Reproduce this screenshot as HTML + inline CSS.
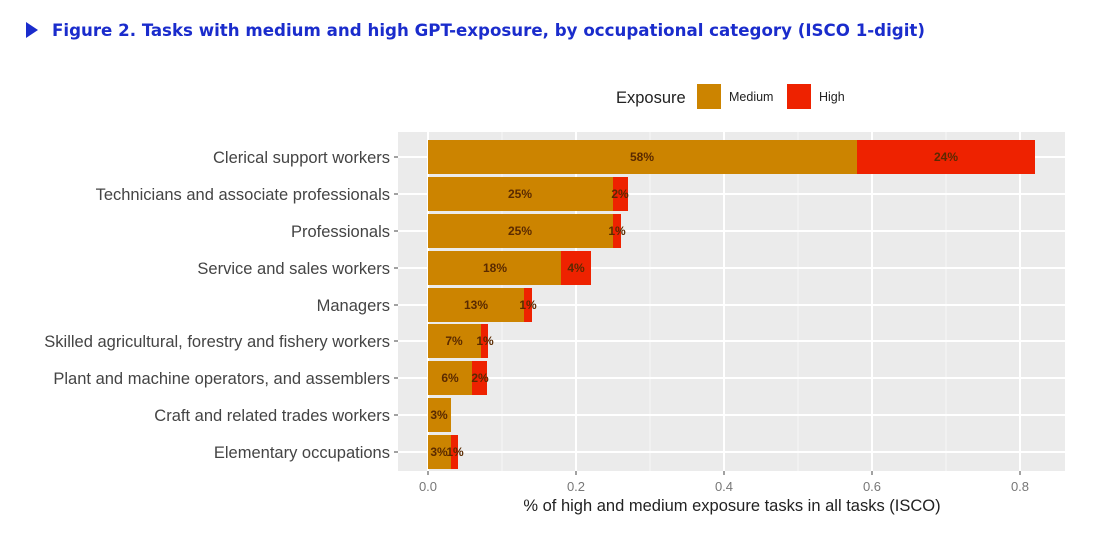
<!DOCTYPE html>
<html><head><style>
body{margin:0;background:#fff;width:1100px;height:537px;overflow:hidden;font-family:"Liberation Sans",sans-serif}
</style></head><body>
<svg width="1100" height="537" xmlns="http://www.w3.org/2000/svg" font-family="Liberation Sans, sans-serif">
<polygon points="26,22 26,38 38,30" fill="#1a2ccc"/>
<text x="52" y="36" font-size="17" font-weight="bold" fill="#1a2ccc" font-family="DejaVu Sans Condensed, DejaVu Sans, sans-serif" textLength="873" lengthAdjust="spacingAndGlyphs">Figure 2. Tasks with medium and high GPT-exposure, by occupational category (ISCO 1-digit)</text>
<text x="616" y="103" font-size="16.5" fill="#222">Exposure</text>
<rect x="697" y="84" width="24" height="25" fill="#cc8400"/>
<text x="729" y="101" font-size="12.5" fill="#222">Medium</text>
<rect x="787" y="84" width="24" height="25" fill="#ee2200"/>
<text x="819" y="101" font-size="12.5" fill="#222">High</text>
<rect x="398" y="132" width="667" height="339" fill="#ebebeb"/>
<g stroke="#f7f7f7" stroke-width="1">
<line x1="502" y1="132" x2="502" y2="471"/><line x1="650" y1="132" x2="650" y2="471"/><line x1="798" y1="132" x2="798" y2="471"/><line x1="946" y1="132" x2="946" y2="471"/>
</g>
<g stroke="#fff" stroke-width="2">
<line x1="428" y1="132" x2="428" y2="471"/><line x1="576" y1="132" x2="576" y2="471"/><line x1="724" y1="132" x2="724" y2="471"/><line x1="872" y1="132" x2="872" y2="471"/><line x1="1020" y1="132" x2="1020" y2="471"/>
<line x1="398" y1="157" x2="1065" y2="157"/><line x1="398" y1="194" x2="1065" y2="194"/><line x1="398" y1="231" x2="1065" y2="231"/><line x1="398" y1="268" x2="1065" y2="268"/><line x1="398" y1="305" x2="1065" y2="305"/><line x1="398" y1="341" x2="1065" y2="341"/><line x1="398" y1="378" x2="1065" y2="378"/><line x1="398" y1="415" x2="1065" y2="415"/><line x1="398" y1="452" x2="1065" y2="452"/>
</g>
<g font-size="12" font-weight="bold" fill="#5a2a00" text-anchor="middle">
<rect x="428" y="140" width="429" height="34" fill="#cc8400"/><rect x="857" y="140" width="178" height="34" fill="#ee2200"/>
<text x="642" y="161">58%</text><text x="946" y="161">24%</text>
<rect x="428" y="177" width="185" height="34" fill="#cc8400"/><rect x="613" y="177" width="15" height="34" fill="#ee2200"/>
<text x="520" y="198">25%</text><text x="620" y="198">2%</text>
<rect x="428" y="214" width="185" height="34" fill="#cc8400"/><rect x="613" y="214" width="8" height="34" fill="#ee2200"/>
<text x="520" y="235">25%</text><text x="617" y="235">1%</text>
<rect x="428" y="251" width="133" height="34" fill="#cc8400"/><rect x="561" y="251" width="30" height="34" fill="#ee2200"/>
<text x="495" y="272">18%</text><text x="576" y="272">4%</text>
<rect x="428" y="288" width="96" height="34" fill="#cc8400"/><rect x="524" y="288" width="8" height="34" fill="#ee2200"/>
<text x="476" y="309">13%</text><text x="528" y="309">1%</text>
<rect x="428" y="324" width="53" height="34" fill="#cc8400"/><rect x="481" y="324" width="7" height="34" fill="#ee2200"/>
<text x="454" y="345">7%</text><text x="485" y="345">1%</text>
<rect x="428" y="361" width="44" height="34" fill="#cc8400"/><rect x="472" y="361" width="15" height="34" fill="#ee2200"/>
<text x="450" y="382">6%</text><text x="480" y="382">2%</text>
<rect x="428" y="398" width="23" height="34" fill="#cc8400"/>
<text x="439" y="419">3%</text>
<rect x="428" y="435" width="23" height="34" fill="#cc8400"/><rect x="451" y="435" width="7" height="34" fill="#ee2200"/>
<text x="439" y="456">3%</text><text x="455" y="456">1%</text>
</g>
<g stroke="#444" stroke-width="1">
<line x1="394" y1="157" x2="398" y2="157"/><line x1="394" y1="194" x2="398" y2="194"/><line x1="394" y1="231" x2="398" y2="231"/><line x1="394" y1="268" x2="398" y2="268"/><line x1="394" y1="305" x2="398" y2="305"/><line x1="394" y1="341" x2="398" y2="341"/><line x1="394" y1="378" x2="398" y2="378"/><line x1="394" y1="415" x2="398" y2="415"/><line x1="394" y1="452" x2="398" y2="452"/>
<line x1="428" y1="471" x2="428" y2="475"/><line x1="576" y1="471" x2="576" y2="475"/><line x1="724" y1="471" x2="724" y2="475"/><line x1="872" y1="471" x2="872" y2="475"/><line x1="1020" y1="471" x2="1020" y2="475"/>
</g>
<g font-size="16.5" fill="#444" text-anchor="end">
<text x="390" y="163">Clerical support workers</text>
<text x="390" y="200">Technicians and associate professionals</text>
<text x="390" y="237">Professionals</text>
<text x="390" y="274">Service and sales workers</text>
<text x="390" y="311">Managers</text>
<text x="390" y="347">Skilled agricultural, forestry and fishery workers</text>
<text x="390" y="384">Plant and machine operators, and assemblers</text>
<text x="390" y="421">Craft and related trades workers</text>
<text x="390" y="458">Elementary occupations</text>
</g>
<g font-size="13" fill="#777" text-anchor="middle">
<text x="428" y="491">0.0</text><text x="576" y="491">0.2</text><text x="724" y="491">0.4</text><text x="872" y="491">0.6</text><text x="1020" y="491">0.8</text>
</g>
<text x="732" y="511" font-size="16.5" fill="#222" text-anchor="middle">% of high and medium exposure tasks in all tasks (ISCO)</text>
</svg>
</body></html>
